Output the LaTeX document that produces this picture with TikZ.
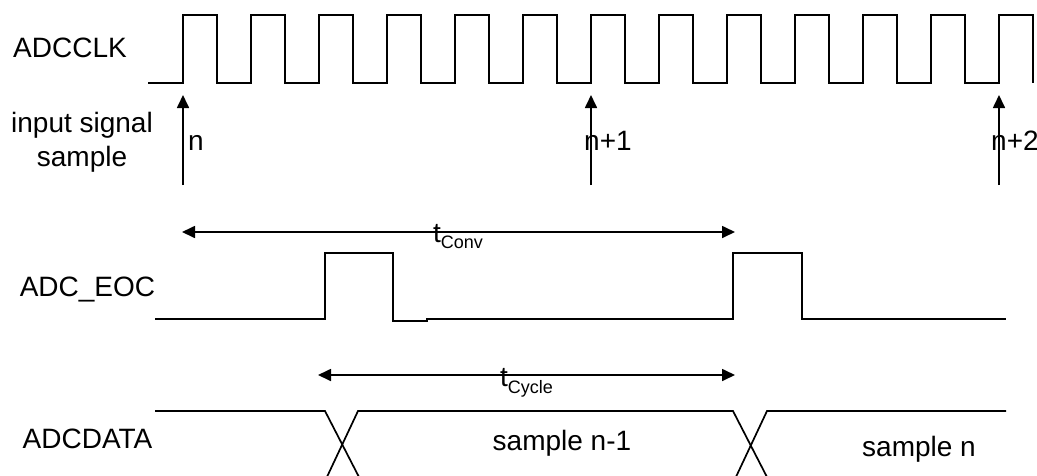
\documentclass[tikz,border=0pt]{standalone}
\usepackage{fontspec}
\setmainfont{Liberation Sans}
\usetikzlibrary{arrows.meta}
\begin{document}
\begin{tikzpicture}[x=1pt,y=-1pt,line join=miter,
  sig/.style={line width=1.7pt},
  lbl/.style={inner sep=0pt,font=\fontsize{28}{32}\selectfont},
  arr/.style={line width=1.7pt,-{Triangle[length=13pt,width=12pt]}},
  darr/.style={line width=1.7pt,{Triangle[length=13pt,width=12pt]}-{Triangle[length=13pt,width=12pt]}}]
\useasboundingbox (0,0) rectangle (1037,475);
% left labels
\node[lbl,anchor=base] (clk) at (70,57) {ADCCLK};
\node[lbl,anchor=base] (inp1) at (82,132) {input signal};
\node[lbl,anchor=base] (inp2) at (82,166) {sample};
\node[lbl,anchor=base] (eoc) at (87.5,296) {ADC\_EOC};
\node[lbl,anchor=base] (dat) at (87.5,448) {ADCDATA};
% clock
\draw[sig] (148,83) foreach \k in {0,...,12} { -- ({183+68*\k},83) -- ({183+68*\k},15) -- ({217+68*\k},15) -- ({217+68*\k},83) };
% sample arrows
\coordinate (s0b) at (183,185); \coordinate (s0t) at (183,95);
\coordinate (s1b) at (591,185); \coordinate (s1t) at (591,95);
\coordinate (s2b) at (999,185); \coordinate (s2t) at (999,95);
\draw[arr] (s0b) -- (s0t);
\draw[arr] (s1b) -- (s1t);
\draw[arr] (s2b) -- (s2t);
\node[lbl,anchor=base west] (n0) at (188,150) {n};
\node[lbl,anchor=base west] (n1) at (584,150) {n+1};
\node[lbl,anchor=base west] (n2) at (991,150) {n+2};
% t_conv
\coordinate (cl) at (182,232); \coordinate (cr) at (735,232);
\draw[darr] (cl) -- (cr);
\node[lbl,anchor=base west] (tconv) at (433,242) {t\raisebox{-6pt}{\fontsize{18}{18}\selectfont Conv}};
% ADC_EOC
\draw[sig] (155,319) -- (325,319) -- (325,253) -- (393,253) -- (393,321) -- (427,321) -- (427,319) -- (733,319) -- (733,253) -- (802,253) -- (802,319) -- (1006,319);
% t_cycle
\coordinate (yl) at (318,375); \coordinate (yr) at (735,375);
\draw[darr] (yl) -- (yr);
\node[lbl,anchor=base west] (tcyc) at (500,386) {t\raisebox{-7.5pt}{\fontsize{18}{18}\selectfont Cycle}};
% ADCDATA
\draw[sig] (155,411) -- (325,411) -- (360,479);
\draw[sig] (326,479) -- (358,411) -- (733,411) -- (768,479);
\draw[sig] (735,479) -- (767,411) -- (1006,411);
\node[lbl,anchor=base] (sn1) at (562,450) {sample n-1};
\node[lbl,anchor=base] (sn) at (919,456) {sample n};
\end{tikzpicture}
\end{document}
